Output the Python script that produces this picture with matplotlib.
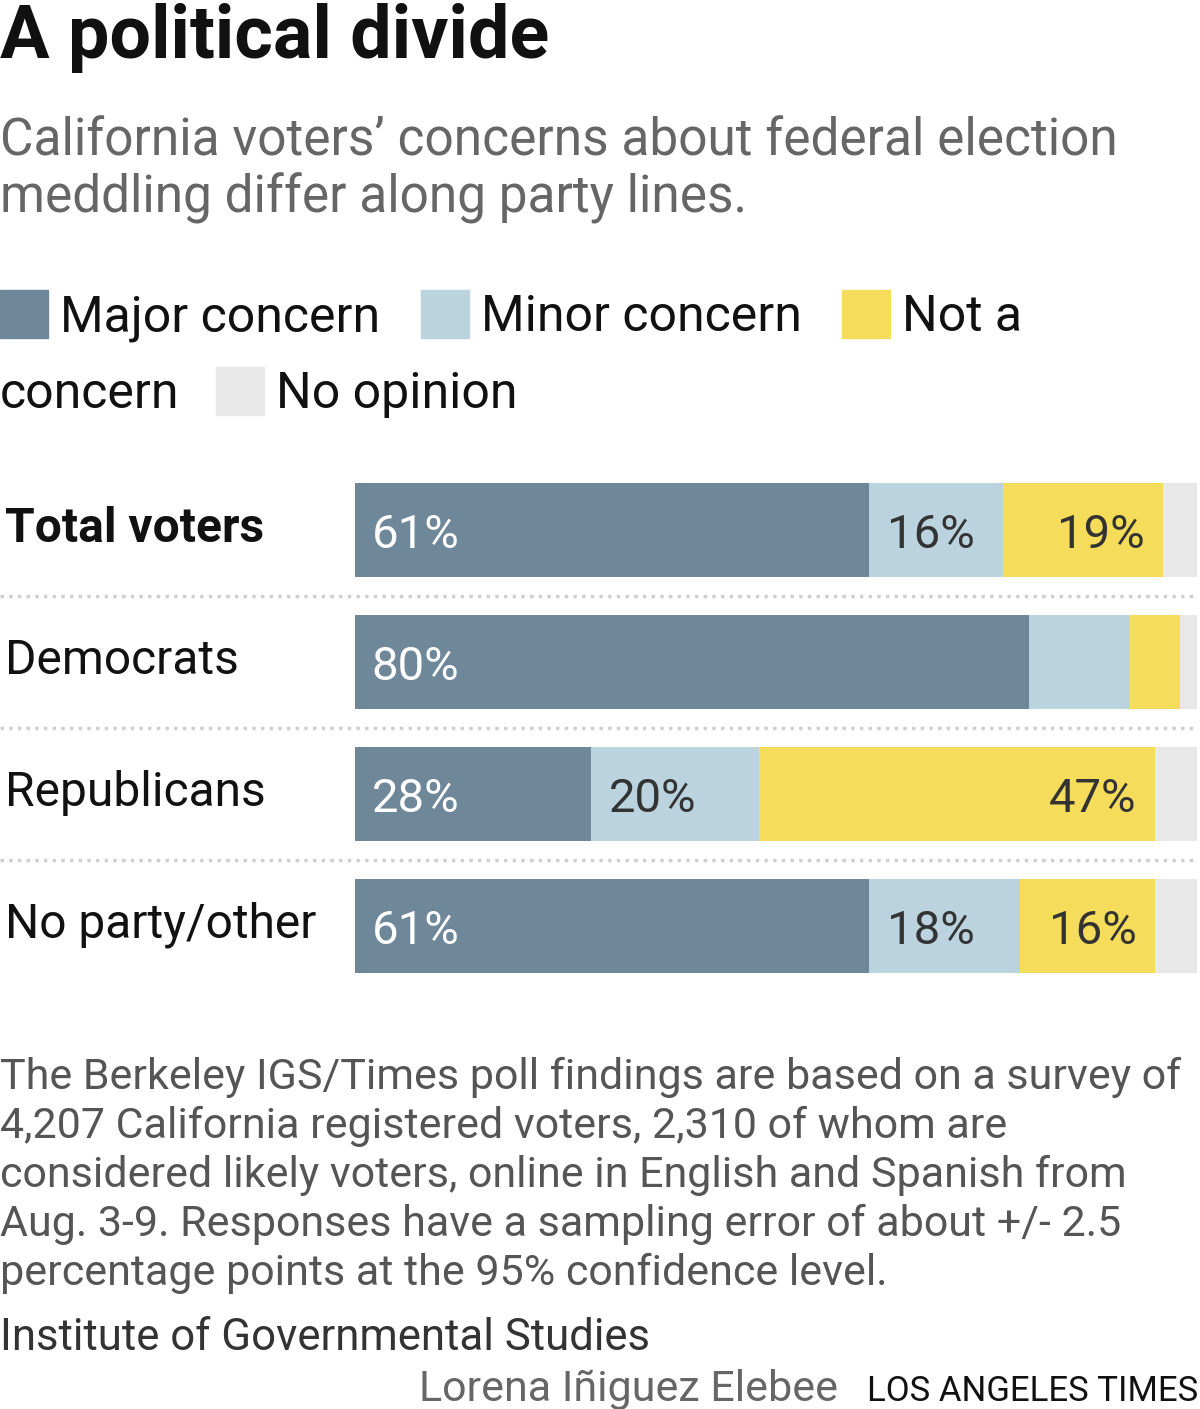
import matplotlib
matplotlib.use("Agg")
import matplotlib.pyplot as plt
from matplotlib.patches import Rectangle

# Survey data (percent)
groups = ["Total voters", "Democrats", "Republicans", "No party/other"]
major = [61, 80, 28, 61]
minor = [16, 12, 20, 18]
not_concern = [19, 6, 47, 16]
no_opinion = [4, 2, 5, 5]
series_names = ["Major concern", "Minor concern", "Not a concern", "No opinion"]
colors = ["#6e8799", "#bbd3de", "#f5dc5a", "#e8e8e8"]
# which value labels are printed on the bars
show_major = [True, True, True, True]
show_minor = [True, False, True, True]
show_not = [True, False, True, True]

FONT = ["Roboto", "DejaVu Sans"]
W, H = 1200, 1409
fig = plt.figure(figsize=(W / 100, H / 100), dpi=100)

def px(x, y):
    return x / W, 1 - y / H

# title / subtitle
fig.text(*px(0, 58), "A political divide", fontsize=53, fontweight="bold",
         family=FONT, va="baseline", ha="left", color="#111111")
fig.text(*px(0, 155), "California voters\u2019 concerns about federal election",
         fontsize=37, family=FONT, va="baseline", color="#666666")
fig.text(*px(0, 213), "meddling differ along party lines.",
         fontsize=37, family=FONT, va="baseline", color="#666666")

# legend (wrapped like the original)
def legend_item(x, y, col, label):
    fig.patches.append(Rectangle(px(x, y + 24), 48 / W, 48 / H, color=col,
                                 transform=fig.transFigure, figure=fig))
    fig.text(*px(x + 60, y + 17), label, fontsize=36, family=FONT, va="baseline",
             color="#111111")

legend_item(0, 314, colors[0], series_names[0])
legend_item(421, 314, colors[1], series_names[1])
legend_item(842, 314, colors[2], "Not a")
fig.text(*px(0, 408), "concern", fontsize=36, family=FONT, va="baseline", color="#111111")
legend_item(216, 391, colors[3], series_names[3])

# bars
ax = fig.add_axes([355 / W, 1 - 992 / H, 842 / W, 528 / H])
ypos = list(range(len(groups)))
left = [0] * len(groups)
for vals, col in zip([major, minor, not_concern, no_opinion], colors):
    ax.barh(ypos, vals, left=left, height=0.705, color=col, linewidth=0)
    left = [l + v for l, v in zip(left, vals)]
ax.set_xlim(0, 100)
ax.set_ylim(3.5, -0.5)
ax.axis("off")

for i, g in enumerate(groups):
    fig.text(*px(5, 545 + 132 * i - 3), g, fontsize=34.5, family=FONT, va="baseline",
             fontweight="bold" if i == 0 else "normal", color="#111111")
    if show_major[i]:
        ax.text(2, i + 0.04, f"{major[i]}%", color="white", fontsize=34,
                family=FONT, va="center", ha="left")
    if show_minor[i]:
        ax.text(major[i] + 2.2, i + 0.04, f"{minor[i]}%", color="#333333",
                fontsize=34, family=FONT, va="center", ha="left")
    if show_not[i]:
        end = major[i] + minor[i] + not_concern[i]
        ax.text(end - 2.2, i + 0.04, f"{not_concern[i]}%", color="#333333",
                fontsize=34, family=FONT, va="center", ha="right")
    if i < len(groups) - 1:
        ax.plot([-355 / 842 * 100, 100], [i + 0.5, i + 0.5], color="#d0d0d0",
                linestyle=(0, (1, 1.5)), linewidth=2.5, clip_on=False)

# notes
notes = ["The Berkeley IGS/Times poll findings are based on a survey of",
         "4,207 California registered voters, 2,310 of whom are",
         "considered likely voters, online in English and Spanish from",
         "Aug. 3-9. Responses have a sampling error of about +/- 2.5",
         "percentage points at the 95% confidence level."]
for k, line in enumerate(notes):
    fig.text(*px(0, 1089 + 49 * k), line, fontsize=31, family=FONT,
             va="baseline", color="#555555")
fig.text(*px(0, 1350), "Institute of Governmental Studies", fontsize=31.5,
         family=FONT, va="baseline", color="#333333")
fig.text(*px(838, 1401), "Lorena I\u00f1iguez Elebee", fontsize=31, family=FONT,
         va="baseline", ha="right", color="#666666")
fig.text(*px(1198, 1401), "LOS ANGELES TIMES", fontsize=25, family=FONT,
         va="baseline", ha="right", color="#111111")

fig.savefig("out.png", dpi=100, facecolor="white")
